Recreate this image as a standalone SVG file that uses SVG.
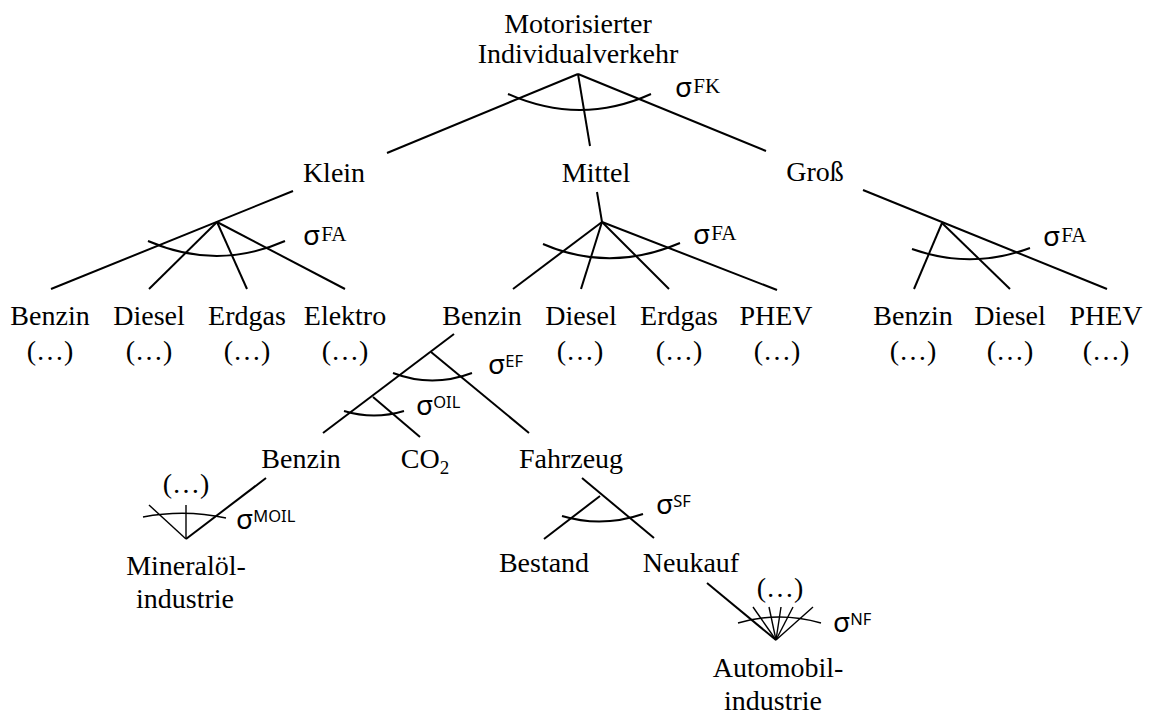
<svg xmlns="http://www.w3.org/2000/svg" width="1149" height="714" viewBox="0 0 1149 714">
  <style>
    .lbl { font-family: "Liberation Serif", "Times New Roman", serif; font-size: 28px; fill: #000; text-anchor: middle; }
    .sig { font-family: "Noto Sans", "DejaVu Sans", sans-serif; font-size: 28px; fill: #000; }
    .sup { font-size: 16.5px; }
    .supS { font-family: "Liberation Serif", serif; font-size: 21px; }
    .edge { stroke: #000; stroke-width: 2; fill: none; stroke-linecap: butt; }
    .arc { stroke: #000; stroke-width: 2; fill: none; }
    .thin { stroke: #000; stroke-width: 1.4; fill: none; }
  </style>
  <rect width="1149" height="714" fill="#fff"/>

  <g id="connectors">
    <!-- top level: vehicle classes -->
    <line class="edge" x1="578" y1="74" x2="387" y2="153"/>
    <line class="edge" x1="578" y1="74" x2="590" y2="146"/>
    <line class="edge" x1="578" y1="74" x2="766" y2="151"/>
    <path class="arc" d="M508,94 Q580,126 651,94"/>

    <!-- Klein: fuel types -->
    <line class="edge" x1="293" y1="191" x2="51" y2="289"/>
    <line class="edge" x1="217" y1="222" x2="149" y2="289"/>
    <line class="edge" x1="217" y1="222" x2="247" y2="289"/>
    <line class="edge" x1="217" y1="222" x2="345" y2="289"/>
    <path class="arc" d="M148,241 Q217,271 285,241"/>

    <!-- Mittel: fuel types -->
    <line class="edge" x1="597" y1="192" x2="602" y2="222"/>
    <line class="edge" x1="602" y1="222" x2="513" y2="289"/>
    <line class="edge" x1="602" y1="222" x2="581" y2="289"/>
    <line class="edge" x1="602" y1="222" x2="669" y2="289"/>
    <line class="edge" x1="602" y1="222" x2="777" y2="290"/>
    <path class="arc" d="M543,244 Q610,273 680,243"/>

    <!-- Groß: fuel types -->
    <line class="edge" x1="863" y1="190" x2="1107" y2="289"/>
    <line class="edge" x1="942" y1="223" x2="914" y2="289"/>
    <line class="edge" x1="942" y1="223" x2="1010" y2="289"/>
    <path class="arc" d="M912,249 Q971,270 1030,248"/>

    <!-- Benzin (Mittel): energy vs. vehicle -->
    <line class="edge" x1="454" y1="334" x2="323" y2="433"/>
    <line class="edge" x1="431" y1="352" x2="529" y2="433"/>
    <path class="arc" d="M393,373 Q432,388 472,373"/>

    <!-- fuel vs. CO2 -->
    <line class="edge" x1="373" y1="397" x2="420" y2="437"/>
    <path class="arc" d="M344,411 Q374,420 404,411"/>

    <!-- Benzin: mineral oil industry -->
    <line class="edge" x1="266" y1="478" x2="186" y2="539"/>
    <line class="thin" x1="149" y1="505" x2="186" y2="539"/>
    <line class="thin" x1="186" y1="505" x2="186" y2="539"/>
    <path class="thin" d="M143,517 Q185,509 226,518"/>

    <!-- Fahrzeug: stock vs. new purchase -->
    <line class="edge" x1="582" y1="478" x2="654" y2="538"/>
    <line class="edge" x1="600" y1="496" x2="544" y2="539"/>
    <path class="arc" d="M562,516 Q602,528 643,514"/>

    <!-- Neukauf: automotive industry -->
    <line class="edge" x1="707" y1="583" x2="776" y2="640"/>
    <line class="thin" x1="753" y1="607" x2="776" y2="640"/>
    <line class="thin" x1="769" y1="607" x2="776" y2="640"/>
    <line class="thin" x1="781" y1="607" x2="776" y2="640"/>
    <line class="thin" x1="793" y1="607" x2="776" y2="640"/>
    <line class="thin" x1="813" y1="607" x2="776" y2="640"/>
    <path class="thin" d="M738,623 Q779,611 821,623"/>
  </g>

  <g id="sigmas">
    <text class="sig" x="675" y="97">σ<tspan class="supS" dx="1" dy="-4">FK</tspan></text>
    <text class="sig" x="303" y="245">σ<tspan class="supS" dx="1" dy="-4">FA</tspan></text>
    <text class="sig" x="693" y="244">σ<tspan class="supS" dx="1" dy="-4">FA</tspan></text>
    <text class="sig" x="1043" y="246">σ<tspan class="supS" dx="1" dy="-4">FA</tspan></text>
    <text class="sig" x="488" y="374">σ<tspan class="sup" dy="-7">EF</tspan></text>
    <text class="sig" x="416" y="415">σ<tspan class="sup" dy="-7">OIL</tspan></text>
    <text class="sig" x="236" y="529">σ<tspan class="sup" dy="-7">MOIL</tspan></text>
    <text class="sig" x="656" y="514">σ<tspan class="sup" dy="-7">SF</tspan></text>
    <text class="sig" x="833" y="632">σ<tspan class="sup" dy="-7">NF</tspan></text>
  </g>

  <g id="node-root">
    <text class="lbl" x="578" y="33">Motorisierter</text>
    <text class="lbl" x="578" y="63">Individualverkehr</text>
  </g>
  <g id="node-klein"><text class="lbl" x="334" y="182">Klein</text></g>
  <g id="node-mittel"><text class="lbl" x="596" y="182">Mittel</text></g>
  <g id="node-gross"><text class="lbl" x="815" y="181">Groß</text></g>

  <g id="node-klein-benzin"><text class="lbl" x="50" y="325">Benzin</text><text class="lbl" x="50" y="360">(…)</text></g>
  <g id="node-klein-diesel"><text class="lbl" x="149" y="325">Diesel</text><text class="lbl" x="149" y="360">(…)</text></g>
  <g id="node-klein-erdgas"><text class="lbl" x="247" y="325">Erdgas</text><text class="lbl" x="247" y="360">(…)</text></g>
  <g id="node-klein-elektro"><text class="lbl" x="345" y="325">Elektro</text><text class="lbl" x="345" y="360">(…)</text></g>

  <g id="node-mittel-benzin"><text class="lbl" x="482" y="325">Benzin</text></g>
  <g id="node-mittel-diesel"><text class="lbl" x="581" y="325">Diesel</text><text class="lbl" x="580" y="360">(…)</text></g>
  <g id="node-mittel-erdgas"><text class="lbl" x="679" y="325">Erdgas</text><text class="lbl" x="679" y="360">(…)</text></g>
  <g id="node-mittel-phev"><text class="lbl" x="776" y="325">PHEV</text><text class="lbl" x="777" y="360">(…)</text></g>

  <g id="node-gross-benzin"><text class="lbl" x="913" y="325">Benzin</text><text class="lbl" x="913" y="360">(…)</text></g>
  <g id="node-gross-diesel"><text class="lbl" x="1010" y="325">Diesel</text><text class="lbl" x="1010" y="360">(…)</text></g>
  <g id="node-gross-phev"><text class="lbl" x="1106" y="325">PHEV</text><text class="lbl" x="1106" y="360">(…)</text></g>

  <g id="node-kraftstoff"><text class="lbl" x="301" y="468">Benzin</text></g>
  <g id="node-co2"><text class="lbl" x="425" y="468">CO<tspan font-size="19" dy="6">2</tspan></text></g>
  <g id="node-fahrzeug"><text class="lbl" x="571" y="468">Fahrzeug</text></g>

  <g id="node-mineraloel">
    <text class="lbl" x="186" y="493">(…)</text>
    <text class="lbl" x="186" y="575">Mineralöl-</text>
    <text class="lbl" x="185" y="608">industrie</text>
  </g>

  <g id="node-bestand"><text class="lbl" x="544" y="572">Bestand</text></g>
  <g id="node-neukauf"><text class="lbl" x="691" y="572">Neukauf</text></g>

  <g id="node-automobil">
    <text class="lbl" x="780" y="597">(…)</text>
    <text class="lbl" x="778" y="677">Automobil-</text>
    <text class="lbl" x="773" y="710">industrie</text>
  </g>
</svg>
